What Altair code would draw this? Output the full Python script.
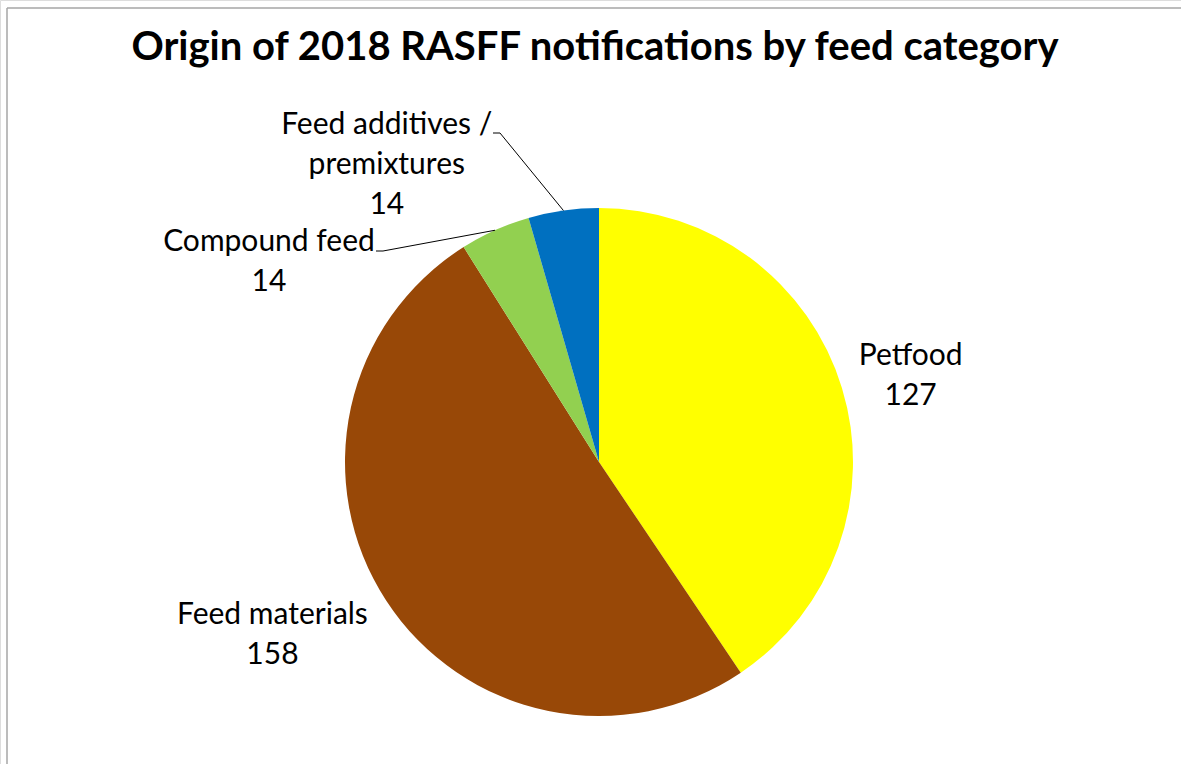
import math
import altair as alt
import pandas as pd

# ---- data ----
categories = ["Petfood", "Feed materials", "Compound feed", "Feed additives / premixtures"]
values = [127, 158, 14, 14]
colors = ["#FFFF00", "#984807", "#92D050", "#0070C0"]
title_text = "Origin of 2018 RASFF notifications by feed category"

# ---- layout ----
W, H = 1181, 764
CX, CY, R = 599, 462, 254
LABEL_R = 330
FONT = "Lato"
LINE_H = 40
# per-label nudges (dx, dy) from the polar anchor (to the first line)
label_nudge = {
    "Petfood": (-4, -10),
    "Feed materials": (-50, -27),
    "Compound feed": (-195, 81),
    "Feed additives / premixtures": (-166, -10),
}
# leader line elbows for the small slices (label-side end)
leader_ends = {
    "Compound feed": [(383, 251), (376, 251)],
    "Feed additives / premixtures": [(500, 133), (493, 133)],
}

df = pd.DataFrame({"category": categories, "value": values,
                   "order": list(range(len(categories)))})
base = alt.Chart(df)

theta = alt.Theta("value:Q", stack=True)
order = alt.Order("order:Q")

pie = base.mark_arc(outerRadius=R).encode(
    theta=theta,
    order=order,
    color=alt.Color("category:N", scale=alt.Scale(domain=categories, range=colors), legend=None),
    x=alt.value(CX),
    y=alt.value(CY),
)

layers = [pie]
for cat in categories:
    dx, dy = label_nudge[cat]
    t = base.transform_calculate(
        label=f"datum.category === '{cat}' ? replace(datum.category, ' / ', ' /\\n') + '\\n' + datum.value : ''"
    ).mark_text(
        radius=LABEL_R, dx=dx, dy=dy, font=FONT, fontSize=30, color="black",
        lineBreak="\n", lineHeight=LINE_H, align="center", baseline="middle",
    ).encode(
        theta=theta, order=order, text="label:N",
        x=alt.value(CX), y=alt.value(CY),
    )
    layers.append(t)

# leader lines: start on the pie edge at each slice's mid angle
total = sum(values)
cum = 0
rows = []
for cat, v in zip(categories, values):
    mid = (cum + v / 2) / total * 2 * math.pi
    cum += v
    if cat in leader_ends:
        pts = [(CX + R * math.sin(mid), CY - R * math.cos(mid))] + leader_ends[cat]
        for i, (px, py) in enumerate(pts):
            rows.append({"cat": cat, "i": i, "px": px, "py": py})
lead_df = pd.DataFrame(rows)
leaders = alt.Chart(lead_df).mark_line(color="black", strokeWidth=1).encode(
    x=alt.X("px:Q", scale=None), y=alt.Y("py:Q", scale=None),
    detail="cat:N", order="i:Q",
)
layers.append(leaders)

frame_df = pd.DataFrame({"a": [0]})
top_rule = alt.Chart(frame_df).mark_rule(color="#A6A6A6", strokeWidth=1.5).encode(
    x=alt.value(7), x2=alt.value(W), y=alt.value(8))
left_rule = alt.Chart(frame_df).mark_rule(color="#A6A6A6", strokeWidth=1.5).encode(
    x=alt.value(7), y=alt.value(8), y2=alt.value(H))
title = alt.Chart(frame_df).mark_text(
    font=FONT, fontSize=40, fontWeight="bold", color="black", align="center", baseline="middle"
).encode(x=alt.value(595), y=alt.value(48), text=alt.value(title_text))

layers += [top_rule, left_rule, title]

chart = alt.layer(*layers).properties(
    width=W, height=H, autosize=alt.AutoSizeParams(type="none"), padding=0
).configure_view(stroke=None).configure(background="white")

chart.save("out.html", embed_options={"renderer": "svg", "actions": False})
